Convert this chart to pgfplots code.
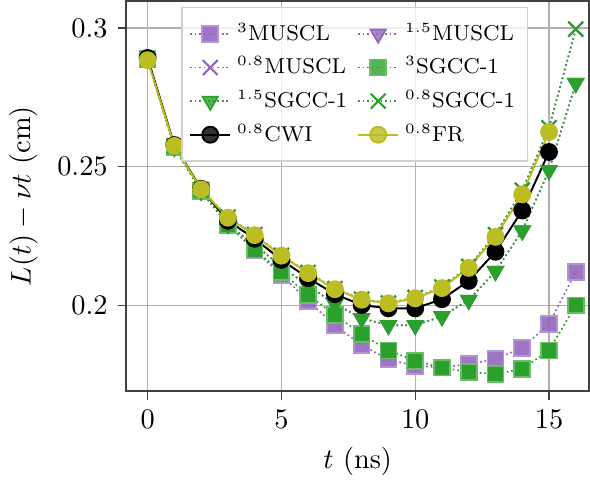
\documentclass[border=0pt]{standalone}
\usepackage{pgfplots}
\pgfplotsset{compat=1.18}
\definecolor{cpurple}{HTML}{9467BD}
\definecolor{cgreen}{HTML}{2CA02C}
\definecolor{colive}{HTML}{BCBD22}
\definecolor{axgray}{HTML}{404040}
\definecolor{gridgray}{HTML}{B0B0B0}
\begin{document}
\begin{tikzpicture}
\begin{axis}[
  scale only axis,
  width=163.3pt, height=137.7pt,
  xmin=-0.8, xmax=16.5, ymin=0.169, ymax=0.3098,
  xtick={0,5,10,15}, ytick={0.2,0.25,0.3},
  yticklabel style={/pgf/number format/fixed,/pgf/number format/precision=2},
  tick align=outside, tick pos=left,
  major tick length=3pt,
  axis line style={axgray, line width=0.6pt},
  every tick/.style={axgray, line width=0.5pt},
  grid=major,
  major grid style={gridgray, line width=0.4pt},
  xlabel={$t$ (ns)}, ylabel={$L(t)-\nu t$ (cm)},
  legend columns=2,
  legend cell align=left,
  legend style={at={(0.494,0.984)}, anchor=north, font=\fontsize{7.6}{9}\selectfont,
    draw=gridgray!60, fill=white, fill opacity=0.8, text opacity=1,
    /tikz/every even column/.append style={column sep=1.5pt},
    row sep=0.3pt, inner xsep=2.5pt, inner ysep=3.5pt},
  legend image code/.code={
    \draw[mark repeat=2,mark phase=2] plot coordinates {(0cm,0cm) (0.25cm,0cm) (0.5cm,0cm)};},
]
% 3MUSCL
\addplot[cpurple, densely dotted, line width=0.6pt, mark=square*, mark size=2.8pt,
  mark options={solid, fill=cpurple, draw=cpurple!70, fill opacity=0.9}] coordinates {
(0,0.2888)(1,0.2570)(2,0.2412)(3,0.2290)(4,0.2198)(5,0.2109)(6,0.2016)(7,0.1928)(8,0.1856)
(9,0.1805)(10,0.1781)(11,0.1776)(12,0.1788)(13,0.1806)(14,0.1846)(15,0.1933)(16,0.2121)};
\addlegendentry{$^{3}$MUSCL}
% 1.5MUSCL
\addplot[cpurple, densely dotted, line width=0.6pt, mark=triangle*, mark size=3.1pt,
  mark options={solid, rotate=180, fill=cpurple, draw=cpurple}] coordinates {
(0,0.2888)(1,0.2570)(2,0.2412)(3,0.2292)(4,0.2218)(5,0.2140)(6,0.2070)(7,0.2005)(8,0.1953)
(9,0.1928)(10,0.1928)(11,0.1960)(12,0.2019)(13,0.2123)(14,0.2269)(15,0.2487)(16,0.2801)};
\addlegendentry{$^{1.5}$MUSCL}
% 0.8MUSCL
\addplot[cpurple, densely dotted, line width=0.6pt, mark=x, mark size=3.7pt,
  mark options={solid, line width=0.75pt}] coordinates {
(0,0.2888)(1,0.2575)(2,0.2418)(3,0.2318)(4,0.2255)(5,0.2180)(6,0.2118)(7,0.2060)(8,0.2022)
(9,0.2008)(10,0.2028)(11,0.2066)(12,0.2140)(13,0.2255)(14,0.2415)(15,0.2640)(16,0.2996)};
\addlegendentry{$^{0.8}$MUSCL}
% 3SGCC-1
\addplot[cgreen, densely dotted, line width=0.6pt, mark=square*, mark size=2.8pt,
  mark options={solid, fill=cgreen, draw=cgreen!70}] coordinates {
(0,0.2888)(1,0.2570)(2,0.2412)(3,0.2290)(4,0.2201)(5,0.2120)(6,0.2037)(7,0.1965)(8,0.1896)
(9,0.1837)(10,0.1800)(11,0.1775)(12,0.1759)(13,0.1752)(14,0.1771)(15,0.1837)(16,0.2000)};
\addlegendentry{$^{3}$SGCC-1}
% 1.5SGCC-1
\addplot[cgreen, densely dotted, line width=0.6pt, mark=triangle*, mark size=3.1pt,
  mark options={solid, rotate=180, fill=cgreen, draw=cgreen}] coordinates {
(0,0.2888)(1,0.2570)(2,0.2412)(3,0.2292)(4,0.2218)(5,0.2140)(6,0.2070)(7,0.2005)(8,0.1953)
(9,0.1928)(10,0.1928)(11,0.1960)(12,0.2019)(13,0.2123)(14,0.2269)(15,0.2487)(16,0.2801)};
\addlegendentry{$^{1.5}$SGCC-1}
% 0.8SGCC-1
\addplot[cgreen, densely dotted, line width=0.6pt, mark=x, mark size=3.7pt,
  mark options={solid, line width=0.75pt}] coordinates {
(0,0.2888)(1,0.2575)(2,0.2418)(3,0.2318)(4,0.2255)(5,0.2180)(6,0.2118)(7,0.2060)(8,0.2022)
(9,0.2008)(10,0.2028)(11,0.2066)(12,0.2140)(13,0.2255)(14,0.2415)(15,0.2640)(16,0.2996)};
\addlegendentry{$^{0.8}$SGCC-1}
% CWI
\addplot[black, solid, line width=0.7pt, mark=*, mark size=2.8pt,
  mark options={fill=black, draw=black}] coordinates {
(0,0.2892)(1,0.2578)(2,0.2420)(3,0.2305)(4,0.2240)(5,0.2164)(6,0.2098)(7,0.2040)(8,0.2001)
(9,0.1989)(10,0.1989)(11,0.2022)(12,0.2088)(13,0.2193)(14,0.2342)(15,0.2553)};
\addlegendentry{$^{0.8}$CWI}
% FR
\addplot[colive, solid, line width=0.7pt, mark=*, mark size=2.8pt,
  mark options={fill=colive, draw=colive}] coordinates {
(0,0.2884)(1,0.2575)(2,0.2418)(3,0.2316)(4,0.2253)(5,0.2179)(6,0.2116)(7,0.2058)(8,0.2020)
(9,0.2007)(10,0.2025)(11,0.2062)(12,0.2135)(13,0.2247)(14,0.2400)(15,0.2625)};
\addlegendentry{$^{0.8}$FR}
\end{axis}
\end{tikzpicture}
\end{document}
